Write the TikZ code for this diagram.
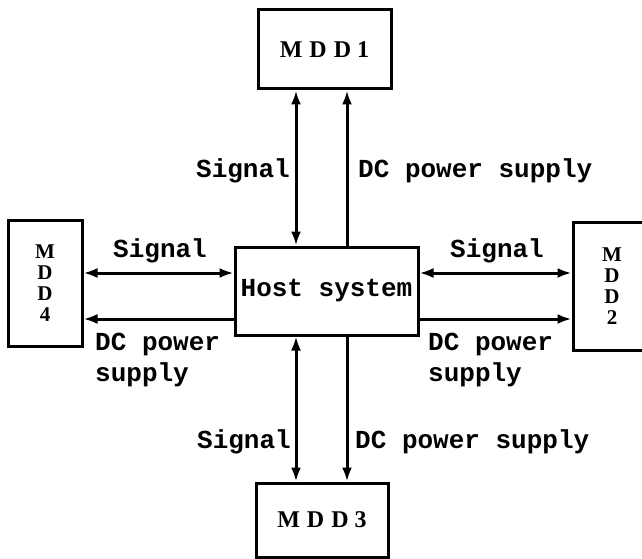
\documentclass[tikz,border=0pt]{standalone}
\usepackage{fontspec}
\setmainfont{Liberation Serif}
\newfontfamily\monof{Liberation Mono}
\usetikzlibrary{arrows.meta}
\tikzset{
  box/.style={draw, line width=3pt, inner sep=0pt, font=\bfseries\fontsize{24}{20}\selectfont},
  vbox/.style={box, align=center, font=\bfseries\fontsize{21}{21}\selectfont},
  lbl/.style={inner sep=0pt, font=\monof\bfseries\fontsize{26}{31}\selectfont},
  conn/.style={line width=3pt},
  tip/.tip={Latex[length=14pt,width=10pt]},
  both/.style={conn, tip-tip},
  tothere/.style={conn, -tip}
}
\begin{document}
\begin{tikzpicture}[x=1pt,y=-1pt]
\clip (0,0) rectangle (642,559);
\fill[white] (0,0) rectangle (642,559);

\node[box, minimum width=133pt, minimum height=79pt] (mdd1) at (324.5,49.5) {M\kern7pt D\kern7pt D\kern6pt 1};
\node[box, minimum width=132pt, minimum height=74pt] (mdd3) at (322,520) {M\kern7pt D\kern7pt D\kern6pt 3};
\node[box, minimum width=183pt, minimum height=88pt, font=\monof\bfseries\fontsize{26}{31}\selectfont] (host) at (326.5,291) {Host system};
\node[vbox, minimum width=74pt, minimum height=126pt] (mdd4) at (45,283) {M\\D\\D\\4};
\node[vbox, minimum width=78pt, minimum height=128pt] (mdd2) at (612,286) {M\\D\\D\\2};

\coordinate (vs) at (296,0);
\coordinate (vd) at (347,0);
\coordinate (hs) at (0,273);
\coordinate (hd) at (0,319);

% top
\draw[both] (host.north -| vs) -- (mdd1.south -| vs);
\draw[tothere] (host.north -| vd) -- (mdd1.south -| vd);
% bottom
\draw[both] (host.south -| vs) -- (mdd3.north -| vs);
\draw[tothere] (host.south -| vd) -- (mdd3.north -| vd);
% left
\draw[both] (host.west |- hs) -- (mdd4.east |- hs);
\draw[tothere] (host.west |- hd) -- (mdd4.east |- hd);
% right
\draw[both] (host.east |- hs) -- (mdd2.west |- hs);
\draw[tothere] (host.east |- hd) -- (mdd2.west |- hd);

% labels
\node[lbl, anchor=base east] (l1) at (290,177) {Signal};
\node[lbl, anchor=base west] (l2) at (358,177) {DC power supply};
\node[lbl, anchor=base west] (l3) at (113,257) {Signal};
\node[lbl, anchor=base west] (l4) at (450,257) {Signal};
\node[lbl, anchor=north west, align=left] (l5) at (95,333) {DC power\\supply};
\node[lbl, anchor=north west, align=left] (l6) at (428,333) {DC power\\supply};
\node[lbl, anchor=base east] (l7) at (291,448) {Signal};
\node[lbl, anchor=base west] (l8) at (355,448) {DC power supply};
\end{tikzpicture}
\end{document}
